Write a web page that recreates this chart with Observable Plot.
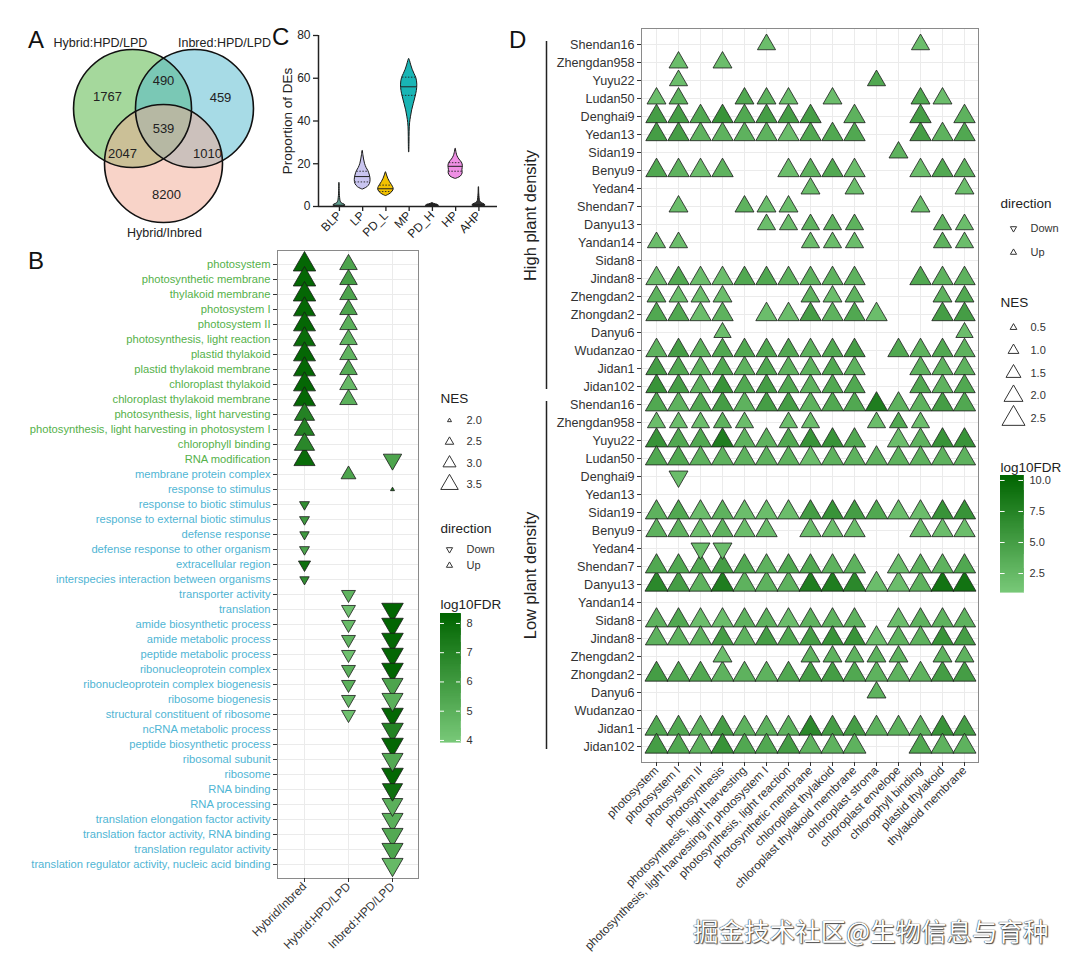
<!DOCTYPE html>
<html><head><meta charset="utf-8">
<script src="https://cdn.jsdelivr.net/npm/d3@7"></script>
<script src="https://cdn.jsdelivr.net/npm/@observablehq/plot@0.6"></script>
<style>
body{margin:0;background:#fff;}
#root{position:relative;width:1080px;height:969px;overflow:hidden;background:#fff;font-family:"Liberation Sans",Arial,Helvetica,sans-serif;}
.letter{position:absolute;font-size:24px;line-height:1;color:#111;}
.wm{position:absolute;font-family:"Noto Sans CJK SC",sans-serif;font-size:25.5px;line-height:1;color:#fff;
 text-shadow:0 0 1px #333,0 0 1px #333,1px 1px 1px #555;white-space:nowrap;}
</style></head>
<body><div id="root"></div>
<script>
// ---------------- DATA ----------------
// Panel A (Venn)
const vennSetNames = ["Hybrid:HPD/LPD","Inbred:HPD/LPD","Hybrid/Inbred"];
const vennColors = ["#4bb139","#4fb7cd","#f1a791"];
const vennCounts = [1767, 490, 459, 539, 2047, 1010, 8200];

// Panel C (violins): profiles = [value, half-width (category units)]
const cCats = ["BLP","LP","PD_L","MP","PD_H","HP","AHP"];
const cFills = ["#5f9f8f","#c9c5f0","#f2c200","#19b5b5","#222222","#ee8fe4","#333333"];
const violinBLP = [[0,0.06],[0.4,0.26],[0.9,0.22],[1.5,0.1],[2.5,0.05],[4,0.03],[6,0.015],[11,0.008]];
const violinLP = [[8,0.02],[9,0.2],[10.5,0.31],[12.5,0.34],[14.5,0.31],[16.5,0.25],[18,0.17],[20,0.1],[22,0.06],[24,0.03],[26,0.008]];
const violinPDL = [[5,0.03],[6,0.2],[7.5,0.32],[8.5,0.33],[10,0.26],[11.5,0.17],[13,0.1],[14.5,0.05],[16,0.008]];
const violinMP = [[25.5,0.008],[30,0.015],[35,0.02],[39,0.04],[42,0.08],[45,0.13],[48,0.2],[51,0.27],[54,0.33],[57,0.35],[60,0.31],[62,0.23],[64,0.15],[66,0.09],[68,0.04],[69,0.008]];
const violinPDH = [[0,0.08],[0.3,0.28],[0.8,0.22],[1.2,0.08],[1.6,0.008]];
const violinHP = [[13,0.03],[14,0.22],[15.5,0.3],[17,0.29],[19,0.31],[20.5,0.27],[22,0.16],[23.5,0.08],[25,0.04],[27,0.008]];
const violinAHP = [[0,0.08],[0.4,0.28],[1,0.24],[1.6,0.12],[2.5,0.05],[4,0.03],[6,0.015],[9,0.008]];
const cQuartiles = [null,[11.5,14,16.5],[7,8.3,10],[52,56,60.5],null,[16.5,18.8,20.5],null];
const cMedians = [0.6,14,8.3,56,0.4,18.8,0.9];
const cYTicks = [0,20,40,60,80];

// Panel B (GO enrichment)
const goTerms = ["photosystem","photosynthetic membrane","thylakoid membrane","photosystem I","photosystem II",
 "photosynthesis, light reaction","plastid thylakoid","plastid thylakoid membrane","chloroplast thylakoid",
 "chloroplast thylakoid membrane","photosynthesis, light harvesting","photosynthesis, light harvesting in photosystem I",
 "chlorophyll binding","RNA modification","membrane protein complex","response to stimulus","response to biotic stimulus",
 "response to external biotic stimulus","defense response","defense response to other organism","extracellular region",
 "interspecies interaction between organisms","transporter activity","translation","amide biosynthetic process",
 "amide metabolic process","peptide metabolic process","ribonucleoprotein complex","ribonucleoprotein complex biogenesis",
 "ribosome biogenesis","structural constituent of ribosome","ncRNA metabolic process","peptide biosynthetic process",
 "ribosomal subunit","ribosome","RNA binding","RNA processing","translation elongation factor activity",
 "translation factor activity, RNA binding","translation regulator activity","translation regulator activity, nucleic acid binding"];
const goGreenTerms = goTerms.slice(0, 14);
const goBlueTerms = goTerms.slice(14);
const comparisons = ["Hybrid/Inbred","Hybrid:HPD/LPD","Inbred:HPD/LPD"];
// [term, direction, NES, log10FDR]
const enrichHybridInbred = [
 ["photosystem","Up",4.05,8.2],["photosynthetic membrane","Up",4.05,8.2],["thylakoid membrane","Up",4.05,8.2],
 ["photosystem I","Up",4.0,8.2],["photosystem II","Up",4.0,8.2],["photosynthesis, light reaction","Up",4.0,8.0],
 ["plastid thylakoid","Up",4.0,8.2],["plastid thylakoid membrane","Up",4.0,8.2],["chloroplast thylakoid","Up",4.0,8.2],
 ["chloroplast thylakoid membrane","Up",4.0,8.2],["photosynthesis, light harvesting","Up",3.8,7.0],
 ["photosynthesis, light harvesting in photosystem I","Up",3.8,7.0],["chlorophyll binding","Up",3.8,6.8],
 ["RNA modification","Up",3.9,8.0],["response to biotic stimulus","Down",2.65,6.5],
 ["response to external biotic stimulus","Down",2.65,6.0],["defense response","Down",2.6,6.0],
 ["defense response to other organism","Down",2.65,5.5],["extracellular region","Down",2.9,7.8],
 ["interspecies interaction between organisms","Down",2.6,6.5]];
const enrichHybridHPD = [
 ["photosystem","Up",3.5,5.5],["photosynthetic membrane","Up",3.5,5.8],["thylakoid membrane","Up",3.5,5.5],
 ["photosystem I","Up",3.5,5.5],["photosystem II","Up",3.5,5.0],["photosynthesis, light reaction","Up",3.5,4.8],
 ["plastid thylakoid","Up",3.5,4.8],["plastid thylakoid membrane","Up",3.5,5.2],["chloroplast thylakoid","Up",3.5,4.6],
 ["chloroplast thylakoid membrane","Up",3.5,5.0],["membrane protein complex","Up",3.2,5.5],
 ["transporter activity","Down",3.1,4.8],["translation","Down",3.1,4.3],["amide biosynthetic process","Down",3.1,4.5],
 ["amide metabolic process","Down",3.1,4.8],["peptide metabolic process","Down",3.1,4.3],
 ["ribonucleoprotein complex","Down",3.1,5.0],["ribonucleoprotein complex biogenesis","Down",3.1,5.0],
 ["ribosome biogenesis","Down",3.1,4.6],["structural constituent of ribosome","Down",3.1,4.3]];
const enrichInbredHPD = [
 ["RNA modification","Down",3.6,5.5],["response to stimulus","Up",2.0,7.5],
 ["translation","Down",3.95,8.3],["amide biosynthetic process","Down",3.95,8.3],["amide metabolic process","Down",3.95,8.2],
 ["peptide metabolic process","Down",3.95,8.2],["ribonucleoprotein complex","Down",3.95,8.3],
 ["ribonucleoprotein complex biogenesis","Down",3.9,5.5],["ribosome biogenesis","Down",3.9,5.0],
 ["structural constituent of ribosome","Down",3.95,8.2],["ncRNA metabolic process","Down",3.95,7.0],
 ["peptide biosynthetic process","Down",3.95,8.2],["ribosomal subunit","Down",3.9,5.3],["ribosome","Down",3.95,8.2],
 ["RNA binding","Down",3.8,7.8],["RNA processing","Down",3.85,5.0],["translation elongation factor activity","Down",3.9,5.0],
 ["translation factor activity, RNA binding","Down",3.9,5.3],["translation regulator activity","Down",3.9,5.5],
 ["translation regulator activity, nucleic acid binding","Down",3.9,4.6]];
const bNesBreaks = [2.0, 2.5, 3.0, 3.5];
const bFdrTicks = [4, 5, 6, 7, 8];

// Panel D (cultivars x photosynthesis terms)
const dTerms = ["photosystem","photosystem I","photosystem II","photosynthesis","photosynthesis, light harvesting",
 "photosynthesis, light harvesting in photosystem I","photosynthesis, light reaction","photosynthetic membrane",
 "chloroplast thylakoid","chloroplast thylakoid membrane","chloroplast stroma","chloroplast envelope",
 "chlorophyll binding","plastid thylakoid","thylakoid membrane"];
const cultivars = ["Shendan16","Zhengdan958","Yuyu22","Ludan50","Denghai9","Yedan13","Sidan19","Benyu9","Yedan4",
 "Shendan7","Danyu13","Yandan14","Sidan8","Jindan8","Zhengdan2","Zhongdan2","Danyu6","Wudanzao","Jidan1","Jidan102"];
// log10FDR per cultivar (rows) and term (columns); 0 = not enriched
const fdrHigh = [
 [0,0,0,0,0,2,0,0,0,0,0,0,2,0,0],
 [0,2,0,2,0,0,0,0,0,0,0,0,0,0,0],
 [0,2,0,0,0,0,0,0,0,0,4,0,0,0,0],
 [2,3,0,0,4,3,2,0,2,0,0,0,4,2,0],
 [5,5,4,6,4,5,5,5,0,3,0,0,5,0,3],
 [5,5,3,3,3,3,2,4,4,4,0,0,5,3,4],
 [0,0,0,0,0,0,0,0,0,0,0,3,0,0,0],
 [4,3,2,3,0,0,2,3,4,2,0,0,2,4,3],
 [0,0,0,0,0,0,0,2,0,2,0,0,0,0,2],
 [0,2,0,0,3,2,2,0,0,0,0,0,2,0,0],
 [0,0,0,0,0,2,2,3,3,3,0,0,0,3,2],
 [2,2,0,0,0,0,0,2,2,2,0,0,0,3,2],
 [0,0,0,0,0,0,0,0,0,0,0,0,0,0,0],
 [2,4,2,2,4,4,3,3,3,3,0,0,4,3,3],
 [3,2,2,2,0,0,0,3,2,3,0,0,0,3,4],
 [4,4,2,3,0,2,2,5,3,4,2,0,0,5,5],
 [0,0,0,2,0,0,0,0,0,0,0,0,0,0,2],
 [3,5,3,4,4,4,4,3,4,5,0,4,3,4,3],
 [5,4,3,4,3,4,3,3,4,3,0,0,3,3,3],
 [6,5,3,6,4,5,4,3,4,4,0,0,4,3,4]];
const fdrLow = [
 [4,3,4,5,3,5,5,3,4,4,8,3,3,5,4],
 [2,2,2,3,2,0,2,2,0,0,2,4,2,0,0],
 [6,4,4,8,3,3,4,6,6,4,0,2,3,6,6],
 [4,4,3,3,3,3,3,2,3,3,3,3,3,3,3],
 [0,2,0,0,0,0,0,0,0,0,0,0,0,0,0],
 [0,0,0,0,0,0,0,0,0,0,0,0,0,0,0],
 [3,4,2,3,2,2,2,5,6,5,4,2,2,6,6],
 [3,3,2,3,2,2,0,2,2,2,0,0,2,2,2],
 [0,0,2,2,0,0,0,0,0,0,0,0,0,0,0],
 [4,4,4,5,4,3,4,4,3,3,0,2,3,3,4],
 [7,5,3,8,3,3,3,8,8,7,2,2,3,9,9],
 [0,0,0,0,0,0,0,0,0,0,0,0,0,0,0],
 [3,4,2,2,3,3,2,3,3,3,0,2,3,3,3],
 [3,3,3,5,3,5,4,5,6,6,2,3,3,6,5],
 [0,0,0,2,0,0,0,3,3,3,3,3,0,3,3],
 [5,4,4,3,3,3,4,5,5,4,3,3,3,5,5],
 [0,0,0,0,0,0,0,0,0,0,3,0,0,0,0],
 [0,0,0,0,0,0,0,0,0,0,0,0,0,0,0],
 [4,4,3,5,3,3,3,7,5,5,3,3,3,6,5],
 [5,4,3,6,4,4,5,3,3,3,0,0,4,3,3]];
const nesHigh = [1.9,2.0,1.9,2.0,2.3,2.3,2.0,2.3,2.0,2.0,1.9,1.9,0,2.3,2.0,2.3,1.8,2.3,2.3,2.3];
const nesLow  = [2.4,1.9,2.4,2.4,2.0,0,2.4,2.3,2.0,2.4,2.5,0,2.4,2.4,2.0,2.5,2.0,0,2.5,2.5];
const downCells = [["L","Denghai9","photosystem I"],["L","Yedan4","photosystem II"],["L","Yedan4","photosynthesis"]];
const densityGroups = [["H","High plant density"],["L","Low plant density"]];
const dNesBreaks = [0.5, 1.0, 1.5, 2.0, 2.5];
const dFdrTicks = [2.5, 5.0, 7.5, 10.0];
const directions = ["Down","Up"];

// ---------------- RENDER ----------------
const FONT = '"Liberation Sans", Arial, Helvetica, sans-serif';
const root = document.getElementById("root");
function place(node, left, top) {
  node.style.position = "absolute"; node.style.left = left + "px"; node.style.top = top + "px";
  node.style.maxWidth = "none"; node.style.overflow = "visible";
  root.appendChild(node); return node;
}
function letter(t, left, top) {
  const d = document.createElement("div"); d.className = "letter"; d.textContent = t;
  d.style.left = left + "px"; d.style.top = top + "px"; root.appendChild(d);
}
const style = {fontFamily: FONT, background: "transparent", overflow: "visible", color: "#333"};
const px = (w) => ({type: "linear", domain: [0, w], range: [0, w], axis: null});
const lowGreen = "#78c878", highGreen = "#006400";

// ---- Panel A: Venn ----
{
  const u = 59, ox = 163, oy = 83, W = 290, H = 225;
  const sets = [
    {name: vennSetNames[0], x: -0.525, y: 0, color: vennColors[0], lx: -1.068, ly: -1.105},
    {name: vennSetNames[1], x: 0.525, y: 0, color: vennColors[1], lx: 1.034, ly: -1.105},
    {name: vennSetNames[2], x: 0, y: 0.932, color: vennColors[2], lx: 0.017, ly: 2.102}];
  const regionPos = [[-0.949,-0.203],[0,-0.475],[0.966,-0.186],[0,0.339],[-0.695,0.763],[0.746,0.763],[0.05,1.464]];
  const regions = vennCounts.map((n, i) => ({n, x: regionPos[i][0], y: regionPos[i][1]}));
  const svg = Plot.plot({
    width: W, height: H, margin: 0, style,
    x: {type: "linear", domain: [-ox / u, (W - ox) / u], range: [0, W], axis: null},
    y: {type: "linear", domain: [-oy / u, (H - oy) / u], range: [0, H], axis: null},
    color: {type: "identity"},
    marks: [
      Plot.dot(sets, {x: "x", y: "y", r: u, fill: "color", fillOpacity: 0.5}),
      Plot.dot(sets, {x: "x", y: "y", r: u, fill: "none", stroke: "#111", strokeWidth: 1.6}),
      Plot.text(regions, {x: "x", y: "y", text: d => String(d.n), fontSize: 13, fill: "#222"}),
      Plot.text(sets, {x: "lx", y: "ly", text: "name", fontSize: 12.5, fill: "#222"})
    ]
  });
  place(svg, 0, 25);
}

// ---- Panel C: violins ----
{
  const profiles = [violinBLP, violinLP, violinPDL, violinMP, violinPDH, violinHP, violinAHP];
  const rows = profiles.flatMap((p, i) => p.map(([v, w]) => ({cat: cCats[i], i: i + 1, v, w, fill: cFills[i]})));
  const widthAt = (p, v) => {
    for (let k = 1; k < p.length; k++) {
      if (v <= p[k][0]) { const t = (v - p[k-1][0]) / (p[k][0] - p[k-1][0]); return p[k-1][1] + t * (p[k][1] - p[k-1][1]); }
    }
    return 0;
  };
  const medians = cMedians.map((v, i) => ({i: i + 1, v, w: widthAt(profiles[i], v)}));
  const quarts = cQuartiles.flatMap((q, i) => q ? [q[0], q[2]].map(v => ({i: i + 1, v, w: widthAt(profiles[i], v)})) : []);
  const svg = Plot.plot({
    width: 240, height: 220, marginLeft: 48, marginTop: 10, marginRight: 13, marginBottom: 39, style: {...style, color: "#222"},
    x: {type: "linear", domain: [0.1, 7.8]},
    y: {type: "linear", domain: [0, 80]},
    color: {type: "identity"},
    marks: [
      Plot.areaX(rows, {y: "v", x1: d => d.i - d.w, x2: d => d.i + d.w, z: "cat", fill: "fill", stroke: "#1a1a1a", strokeWidth: 1, curve: "catmull-rom"}),
      Plot.ruleY(quarts, {y: "v", x1: d => d.i - d.w, x2: d => d.i + d.w, stroke: "#222", strokeWidth: 0.9, strokeDasharray: "1.5,1.5"}),
      Plot.ruleY(medians, {y: "v", x1: d => d.i - d.w, x2: d => d.i + d.w, stroke: "#222", strokeWidth: 1}),
      Plot.ruleX([0.1], {stroke: "#222", strokeWidth: 1.5}),
      Plot.ruleY([0], {stroke: "#222", strokeWidth: 1.5}),
      Plot.axisY({ticks: cYTicks, tickSize: 5, tickPadding: 3, fontSize: 12, label: null, strokeWidth: 1.3}),
      Plot.axisX({ticks: [1,2,3,4,5,6,7], tickFormat: i => cCats[i - 1], tickSize: 5, tickPadding: 2, tickRotate: -45, fontSize: 12, label: null, strokeWidth: 1.3}),
      Plot.text(["Proportion of DEs"], {frameAnchor: "left", textAnchor: "middle", dx: -31, rotate: -90, fontSize: 13.5, fill: "#222"})
    ]
  });
  place(svg, 270, 25);
}

// ---- Panel B: GO dot plot ----
const bColor = {type: "linear", domain: [3.93, 8.34], range: [lowGreen, highGreen], interpolate: "rgb", clamp: true};
const bR = {type: "linear", domain: [2, 3.5], range: [1.5, 6.5]};
{
  const toCells = (arr, comp) => arr.map(([term, dir, nes, fdr]) => ({comp, term, dir, nes, fdr}));
  const cells = [...toCells(enrichHybridInbred, comparisons[0]), ...toCells(enrichHybridHPD, comparisons[1]), ...toCells(enrichInbredHPD, comparisons[2])];
  const svg = Plot.plot({
    width: 425, height: 724, marginLeft: 277, marginTop: 5, marginRight: 7, marginBottom: 91, style,
    x: {type: "point", domain: comparisons, padding: 0.6},
    y: {type: "point", domain: goTerms, padding: 0.6},
    color: bColor, r: bR,
    marks: [
      Plot.gridX({stroke: "#ebebeb", strokeOpacity: 1}),
      Plot.gridY({stroke: "#ebebeb", strokeOpacity: 1}),
      Plot.frame({stroke: "#8a8a8a"}),
      Plot.axisY(goGreenTerms, {tickSize: 4, tickPadding: 3, fontSize: 11.2, fill: "#55b14a", stroke: "#333", label: null}),
      Plot.axisY(goBlueTerms, {tickSize: 4, tickPadding: 3, fontSize: 11.2, fill: "#4fb5d4", stroke: "#333", label: null}),
      Plot.axisX({tickSize: 4, tickPadding: 2, tickRotate: -45, fontSize: 11.8, fill: "#333", label: null}),
      Plot.dot(cells, {x: "comp", y: "term", r: "nes", fill: "fdr", stroke: "#1a1a1a", strokeWidth: 0.8, symbol: "triangle", rotate: d => d.dir === "Down" ? 180 : 0})
    ]
  });
  place(svg, 0, 245);
}

// ---- Panel B legends ----
{
  const svg = Plot.plot({
    width: 80, height: 200, margin: 0, style, x: px(80), y: px(200), r: bR,
    marks: [
      Plot.text(["NES"], {x: 15, y: 13, textAnchor: "start", fontSize: 13.5, fill: "#222"}),
      Plot.dot(bNesBreaks, {x: 24, y: (d, i) => 35 + i * 21.3, r: d => d, symbol: "triangle", fill: "white", stroke: "#333", strokeWidth: 1}),
      Plot.text(bNesBreaks, {x: 41, y: (d, i) => 35 + i * 21.3, text: d => d.toFixed(1), textAnchor: "start", fontSize: 11, fill: "#333"}),
      Plot.text(["direction"], {x: 15, y: 143, textAnchor: "start", fontSize: 13.5, fill: "#222"}),
      Plot.dot(directions, {x: 24, y: (d, i) => 164 + i * 16, r: 2.3, symbol: "triangle", rotate: d => d === "Down" ? 180 : 0, fill: "white", stroke: "#333", strokeWidth: 1}),
      Plot.text(directions, {x: 41, y: (d, i) => 164 + i * 16, text: d => d, textAnchor: "start", fontSize: 11, fill: "#333"}),
      Plot.text(["log10FDR"], {x: 15, y: 219, textAnchor: "start", fontSize: 13.5, fill: "#222"})
    ]
  });
  place(svg, 425, 385);
}
function colorBar(colorOpts, ticks, fmt, barW, barH, left, top) {
  const [lo, hi] = colorOpts.domain;
  const n = 120;
  const steps = d3.range(0, n).map(k => lo + (hi - lo) * k / n);
  const st = (hi - lo) / n;
  const svg = Plot.plot({
    width: barW + 40, height: barH, margin: 0, style, color: colorOpts,
    x: {type: "linear", domain: [0, 1], range: [0, barW], axis: null},
    y: {type: "linear", domain: [lo, hi], range: [barH, 0], axis: null},
    marks: [
      Plot.rect(steps, {x1: 0, x2: 1, y1: d => d, y2: d => Math.min(hi, d + st * 1.6), fill: d => d, stroke: d => d, strokeWidth: 0.6, shapeRendering: "crispEdges"}),
      Plot.ruleY(ticks, {x1: 0, x2: 0.2, stroke: "white", strokeWidth: 1}),
      Plot.ruleY(ticks, {x1: 0.8, x2: 1, stroke: "white", strokeWidth: 1}),
      Plot.text(ticks, {x: 1, y: d => d, dx: 6, text: fmt, textAnchor: "start", fontSize: 11, fill: "#333"})
    ]
  });
  place(svg, left, top);
}
colorBar(bColor, bFdrTicks, d => String(d), 20, 129, 440, 613);

// ---- Panel D ----
const dColor = {type: "linear", domain: [0.97, 10.4], range: [lowGreen, highGreen], interpolate: "rgb", clamp: true};
const dR = {type: "linear", domain: [0.5, 2.5], range: [2.5, 8.55]};
{
  const yDomain = densityGroups.flatMap(([k]) => cultivars.map(c => k + ":" + c));
  const cells = [];
  for (const [k, fdr, nes] of [["H", fdrHigh, nesHigh], ["L", fdrLow, nesLow]]) {
    cultivars.forEach((c, i) => dTerms.forEach((t, j) => {
      const f = fdr[i][j];
      if (f > 0) {
        const down = downCells.some(([dk, dc, dt]) => dk === k && dc === c && dt === t);
        cells.push({y: k + ":" + c, term: t, fdr: f, nes: nes[i], dir: down ? "Down" : "Up"});
      }
    }));
  }
  const brackets = densityGroups.map(([k, label]) => ({y1: k + ":" + cultivars[0], y2: k + ":" + cultivars[cultivars.length - 1], ym: k + ":Shendan7", label}));
  const svg = Plot.plot({
    width: 500, height: 949, marginLeft: 141, marginTop: 8, marginRight: 22, marginBottom: 207, style,
    x: {type: "point", domain: dTerms, padding: 0.6},
    y: {type: "point", domain: yDomain, padding: 0.6},
    color: dColor, r: dR,
    marks: [
      Plot.gridX({stroke: "#ebebeb", strokeOpacity: 1}),
      Plot.gridY({stroke: "#ebebeb", strokeOpacity: 1}),
      Plot.frame({stroke: "#8a8a8a"}),
      Plot.axisY({tickSize: 4, tickPadding: 3, fontSize: 12.6, tickFormat: d => d.slice(2), fill: "#333", stroke: "#333", label: null}),
      Plot.axisX({tickSize: 4, tickPadding: 2, tickRotate: -45, fontSize: 11.8, fill: "#333", stroke: "#333", label: null}),
      Plot.dot(cells, {x: "term", y: "y", r: "nes", fill: "fdr", stroke: "#1a1a1a", strokeWidth: 0.8, symbol: "triangle", rotate: d => d.dir === "Down" ? 180 : 0}),
      Plot.ruleX(brackets, {x: () => dTerms[0], y1: "y1", y2: "y2", dx: -110, stroke: "#222", strokeWidth: 1.5, insetTop: -3, insetBottom: -3}),
      Plot.text(brackets, {x: () => dTerms[0], y: "ym", dy: 9, dx: -126, text: "label", rotate: -90, fontSize: 16.5, fill: "#222"})
    ]
  });
  place(svg, 500, 20);
}
// ---- Panel D legends ----
{
  const svg = Plot.plot({
    width: 95, height: 300, margin: 0, style, x: px(95), y: px(300), r: dR,
    marks: [
      Plot.text(["direction"], {x: 15, y: 23, textAnchor: "start", fontSize: 13.5, fill: "#222"}),
      Plot.dot(directions, {x: 28, y: (d, i) => 48 + i * 24, r: 2.3, symbol: "triangle", rotate: d => d === "Down" ? 180 : 0, fill: "white", stroke: "#333", strokeWidth: 1}),
      Plot.text(directions, {x: 45, y: (d, i) => 48 + i * 24, text: d => d, textAnchor: "start", fontSize: 11, fill: "#333"}),
      Plot.text(["NES"], {x: 15, y: 122, textAnchor: "start", fontSize: 13.5, fill: "#222"}),
      Plot.dot(dNesBreaks, {x: 28, y: (d, i) => 147 + i * 22.8, r: d => d, symbol: "triangle", fill: "white", stroke: "#333", strokeWidth: 1}),
      Plot.text(dNesBreaks, {x: 45, y: (d, i) => 147 + i * 22.8, text: d => d.toFixed(1), textAnchor: "start", fontSize: 11, fill: "#333"}),
      Plot.text(["log10FDR"], {x: 15, y: 287, textAnchor: "start", fontSize: 13.5, fill: "#222"})
    ]
  });
  place(svg, 985, 180);
}
colorBar(dColor, dFdrTicks, d => d.toFixed(1), 23, 117, 1000, 475);

// ---- Panel letters and watermark ----
letter("A", 28, 28); letter("B", 28, 249); letter("C", 272, 25); letter("D", 509, 28);
{
  const wm = document.createElement("div"); wm.className = "wm"; wm.textContent = "掘金技术社区@生物信息与育种";
  wm.style.left = "693px"; wm.style.top = "917px"; root.appendChild(wm);
}
</script>
</body></html>
